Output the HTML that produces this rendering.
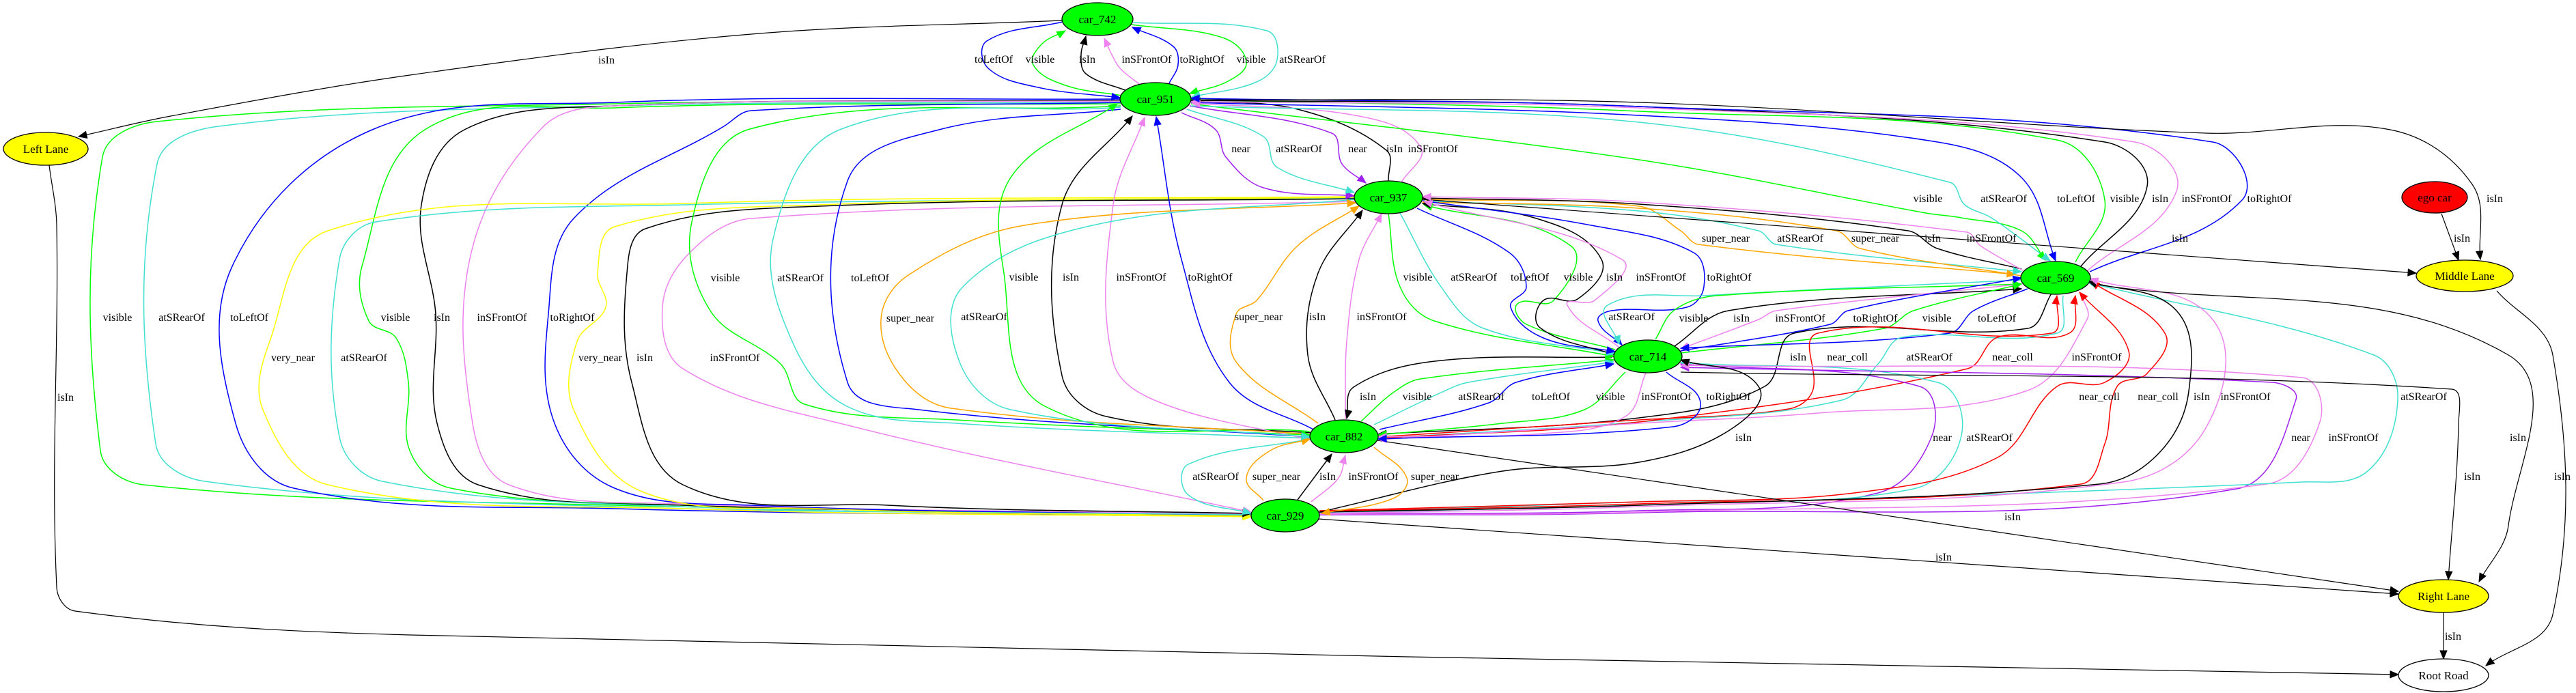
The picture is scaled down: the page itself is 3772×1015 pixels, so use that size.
<!DOCTYPE html>
<html><head><meta charset="utf-8">
<style>
html,body{margin:0;padding:0;background:#fff;}
svg{display:block;}
text{font-family:"Liberation Serif","DejaVu Serif",serif;font-size:16px;fill:#000;text-anchor:middle;}
#nodelabels text{font-size:17px;}
</style></head>
<body>
<svg id="g" width="3772" height="1015" viewBox="0 0 3772 1015" xmlns="http://www.w3.org/2000/svg">
<rect width="3772" height="1015" fill="#fff"/>
<g id="edges" fill="none"></g>
<g id="arrows"></g>
<g id="nodes" stroke="#000" stroke-width="1.3">
<ellipse cx="1607" cy="28" rx="52" ry="24" fill="#00ff00"/>
<ellipse cx="1692" cy="145" rx="52" ry="24" fill="#00ff00"/>
<ellipse cx="2033" cy="289" rx="50" ry="24" fill="#00ff00"/>
<ellipse cx="3010" cy="407" rx="51" ry="24" fill="#00ff00"/>
<ellipse cx="2413" cy="522" rx="50" ry="24" fill="#00ff00"/>
<ellipse cx="1968" cy="639" rx="50" ry="24" fill="#00ff00"/>
<ellipse cx="1882" cy="755" rx="50" ry="24" fill="#00ff00"/>
<ellipse cx="67" cy="218" rx="62" ry="24" fill="#ffff00"/>
<ellipse cx="3609" cy="404" rx="71" ry="23" fill="#ffff00"/>
<ellipse cx="3565" cy="289" rx="48" ry="23" fill="#ff0000"/>
<ellipse cx="3578" cy="873" rx="66" ry="24" fill="#ffff00"/>
<ellipse cx="3578" cy="989" rx="66" ry="24" fill="#ffffff"/>
</g>
<g id="nodelabels">
<text x="1607" y="34">car_742</text>
<text x="1692" y="151">car_951</text>
<text x="2033" y="295">car_937</text>
<text x="3010" y="413">car_569</text>
<text x="2413" y="528">car_714</text>
<text x="1968" y="645">car_882</text>
<text x="1882" y="761">car_929</text>
<text x="67" y="224">Left Lane</text>
<text x="3609" y="410">Middle Lane</text>
<text x="3565" y="295">ego car</text>
<text x="3578" y="879">Right Lane</text>
<text x="3578" y="995">Root Road</text>
</g>
<g id="labels">
<text x="1455" y="92">toLeftOf</text><text x="1523" y="92">visible</text><text x="1592" y="92">isIn</text><text x="1679" y="92">inSFrontOf</text><text x="1760" y="92">toRightOf</text><text x="1832" y="92">visible</text><text x="1907" y="92">atSRearOf</text>
<text x="888" y="93">isIn</text>
<text x="172" y="470">visible</text><text x="266" y="470">atSRearOf</text><text x="365" y="470">toLeftOf</text><text x="579" y="470">visible</text><text x="647" y="470">isIn</text><text x="735" y="470">inSFrontOf</text><text x="838" y="470">toRightOf</text>
<text x="429" y="529">very_near</text><text x="533" y="529">atSRearOf</text><text x="879" y="529">very_near</text><text x="944" y="529">isIn</text><text x="1076" y="529">inSFrontOf</text>
<text x="1062" y="412">visible</text><text x="1172" y="412">atSRearOf</text><text x="1274" y="412">toLeftOf</text>
<text x="1333" y="471">super_near</text>
<text x="1499" y="411">visible</text><text x="1568" y="411">isIn</text><text x="1671" y="411">inSFrontOf</text><text x="1772" y="411">toRightOf</text>
<text x="2076" y="411">visible</text><text x="2158" y="411">atSRearOf</text><text x="2240" y="411">toLeftOf</text><text x="2311" y="411">visible</text><text x="2364" y="411">isIn</text><text x="2432" y="411">inSFrontOf</text><text x="2532" y="411">toRightOf</text>
<text x="1441" y="469">atSRearOf</text><text x="1843" y="469">super_near</text><text x="1929" y="469">isIn</text><text x="2023" y="469">inSFrontOf</text><text x="2389" y="469">atSRearOf</text><text x="2480" y="471">visible</text>
<text x="2550" y="471">isIn</text><text x="2636" y="471">inSFrontOf</text><text x="2746" y="471">toRightOf</text><text x="2836" y="471">visible</text><text x="2924" y="471">toLeftOf</text>
<text x="2003" y="586">isIn</text><text x="2075" y="586">visible</text><text x="2169" y="586">atSRearOf</text><text x="2271" y="586">toLeftOf</text><text x="2358" y="586">visible</text><text x="2440" y="586">inSFrontOf</text><text x="2531" y="586">toRightOf</text>
<text x="1780" y="703">atSRearOf</text><text x="1869" y="703">super_near</text><text x="1944" y="703">isIn</text><text x="2011" y="703">inSFrontOf</text><text x="2101" y="703">super_near</text>
<text x="2633" y="528">isIn</text><text x="2705" y="528">near_coll</text><text x="2825" y="528">atSRearOf</text><text x="2947" y="528">near_coll</text><text x="3070" y="528">inSFrontOf</text>
<text x="3074" y="586">near_coll</text><text x="3160" y="586">near_coll</text><text x="3224" y="586">isIn</text><text x="3288" y="586">inSFrontOf</text><text x="3549" y="586">atSRearOf</text>
<text x="2553" y="646">isIn</text><text x="2844" y="646">near</text><text x="2913" y="646">atSRearOf</text><text x="3369" y="646">near</text><text x="3446" y="646">inSFrontOf</text><text x="3687" y="646">isIn</text>
<text x="3620" y="703">isIn</text><text x="3752" y="703">isIn</text>
<text x="2947" y="762">isIn</text><text x="2846" y="821">isIn</text><text x="3592" y="937">isIn</text><text x="96" y="587">isIn</text>
<text x="2527" y="354">super_near</text><text x="2636" y="354">atSRearOf</text><text x="2746" y="354">super_near</text><text x="2830" y="354">isIn</text><text x="2916" y="354">inSFrontOf</text><text x="3192" y="354">isIn</text><text x="3605" y="354">isIn</text>
<text x="2823" y="296">visible</text><text x="2934" y="296">atSRearOf</text><text x="3040" y="296">toLeftOf</text><text x="3111" y="296">visible</text><text x="3163" y="296">isIn</text><text x="3231" y="296">inSFrontOf</text><text x="3323" y="296">toRightOf</text><text x="3653" y="296">isIn</text>
<text x="1817" y="223">near</text><text x="1902" y="223">atSRearOf</text><text x="1988" y="223">near</text><text x="2042" y="223">isIn</text><text x="2098" y="223">inSFrontOf</text>
</g>
</svg>
<script>
var G='#00ff00',C='#40e0d0',V='#ee82ee',B='#0000ff',K='#000000',P='#a020f0',O='#ffa500',Y='#ffff00',R='#ff0000';
var E=[
[B,[[1556,32],[1445,60],[1447,100],[1520,128],[1640,143]]],
[G,[[1642,140],[1560,125],[1513,95],[1525,65],[1560,45]]],
[K,[[1650,133],[1590,108],[1583,80],[1590,53]]],
[V,[[1668,123],[1640,100],[1628,80],[1617,56]]],
[B,[[1712,122],[1725,95],[1718,68],[1658,40]]],
[G,[[1656,36],[1790,55],[1825,90],[1800,118],[1742,137]]],
[C,[[1659,33],[1855,45],[1870,88],[1840,120],[1745,142]]],
[K,[[1555,30],[1100,50],[600,110],[250,170],[115,200]],1],
[G,[[1640,148],[900,152],[230,178],[150,230],[147,660],[210,710],[900,740],[1832,752]]],
[C,[[1640,150],[900,155],[320,185],[230,240],[228,650],[300,705],[900,742],[1832,754]]],
[B,[[1640,145],[900,150],[545,190],[340,390],[345,620],[430,715],[900,745],[1832,756]]],
[G,[[1641,152],[900,158],[622,190],[530,390],[540,470],[580,495],[598,560],[600,660],[660,715],[1000,740],[1832,755]]],
[K,[[1641,147],[900,155],[680,190],[617,300],[638,460],[640,620],[700,710],[1000,740],[1832,752]]],
[V,[[1641,148],[900,155],[795,186],[690,370],[692,620],[745,710],[1000,738],[1832,753]]],
[B,[[1641,150],[1100,162],[1060,185],[840,320],[803,460],[812,620],[900,715],[1100,740],[1832,755]]],
[Y,[[1985,288],[1000,298],[480,338],[395,500],[385,600],[480,710],[1000,745],[1832,757]]],
[C,[[1985,290],[1000,300],[550,325],[497,380],[497,640],[560,705],[1000,742],[1832,754]]],
[Y,[[1985,289],[1200,300],[900,332],[875,400],[887,450],[845,500],[840,600],[940,720],[1200,745],[1832,756]]],
[K,[[1985,291],[1200,302],[945,335],[918,400],[925,560],[1000,710],[1300,740],[1832,752]]],
[V,[[1985,295],[1100,320],[1010,370],[970,450],[1000,540],[1250,625],[1832,750]]],
[G,[[1641,155],[1098,189],[1013,325],[1040,455],[1143,533],[1178,592],[1400,615],[1918,637]]],
[C,[[1641,157],[1232,189],[1132,350],[1160,500],[1240,595],[1400,620],[1918,642]]],
[B,[[1641,160],[1375,190],[1241,265],[1241,560],[1345,600],[1918,640]]],
[G,[[1918,632],[1530,595],[1470,400],[1480,260],[1636,152]]],
[K,[[1920,634],[1620,610],[1555,550],[1555,300],[1658,170]]],
[V,[[1922,645],[1700,590],[1630,530],[1630,300],[1676,172]]],
[B,[[1925,630],[1800,560],[1730,380],[1693,171]]],
[P,[[1730,165],[1780,190],[1795,230],[1850,275],[1983,287]]],
[C,[[1738,160],[1850,200],[1870,245],[1983,282]]],
[P,[[1742,155],[1950,195],[1965,240],[2000,268]]],
[K,[[2033,265],[2030,220],[1900,160],[1745,148]]],
[V,[[2052,267],[2080,215],[1990,170],[1745,151]]],
[G,[[1744,152],[2400,234],[2820,312],[2872,319],[2960,338],[2995,381]]],
[C,[[1744,155],[2400,179],[2855,267],[2877,300],[2916,319],[3002,382]]],
[B,[[1744,150],[2400,169],[2837,208],[2960,260],[3010,382]]],
[G,[[3039,384],[3082,293],[3012,205],[2400,163],[1744,146]]],
[K,[[3047,390],[3144,273],[3082,208],[2400,156],[1744,147]]],
[V,[[3056,397],[3187,280],[3126,208],[2400,158],[1744,149]]],
[B,[[3060,398],[3283,293],[3240,208],[2400,156],[1744,144]]],
[K,[[1744,146],[2400,150],[3230,195],[3500,190],[3620,270],[3632,380]],1],
[O,[[2083,292],[2400,302],[2461,338],[2487,358],[2951,402]]],
[C,[[2083,294],[2400,309],[2575,338],[2601,358],[2960,398]]],
[O,[[2960,404],[2724,364],[2689,338],[2400,305],[2083,296]]],
[K,[[2960,394],[2837,364],[2794,338],[2400,299],[2083,290]]],
[V,[[2962,396],[2900,360],[2880,340],[2400,296],[2083,288]]],
[K,[[2083,292],[3538,400]],1],
[K,[[3575,313],[3600,381]],1],
[G,[[2033,313],[2050,420],[2100,470],[2363,522]]],
[C,[[2050,312],[2110,420],[2170,480],[2365,518]]],
[B,[[2075,305],[2210,370],[2235,420],[2212,450],[2260,495],[2365,515]]],
[G,[[2365,512],[2235,475],[2222,445],[2275,440],[2300,360],[2085,300]]],
[K,[[2365,520],[2255,480],[2260,440],[2310,438],[2345,380],[2250,320],[2083,298]]],
[V,[[2370,508],[2295,447],[2335,440],[2375,380],[2085,295]]],
[B,[[2083,294],[2330,330],[2480,370],[2495,420],[2470,450],[2360,455],[2340,470],[2375,505]]],
[C,[[2960,410],[2495,433],[2354,447],[2371,504]]],
[G,[[2424,497],[2452,454],[2514,433],[2960,416]]],
[K,[[2452,507],[2531,455],[2960,423]]],
[V,[[2960,416],[2601,455],[2575,468],[2461,511]]],
[B,[[2461,514],[2680,475],[2706,455],[2960,407]]],
[G,[[2461,517],[2759,481],[2802,455],[2960,416]]],
[B,[[2969,423],[2890,455],[2855,488],[2461,510]]],
[K,[[3004,430],[2969,481],[2627,488],[2584,566],[2400,612],[2018,636]]],
[R,[[2018,640],[2400,615],[2619,599],[2654,573],[2662,488],[3004,488],[3012,433]]],
[C,[[3021,433],[3012,488],[2785,494],[2750,533],[2697,586],[2400,618],[2018,642]]],
[R,[[2018,642],[2400,618],[2881,540],[2925,494],[3030,488],[3039,433]]],
[V,[[3047,430],[3056,468],[2969,572],[2662,605],[2400,620],[2018,644]]],
[K,[[2361,523],[2101,529],[1982,567],[1972,613]]],
[G,[[1993,617],[2040,575],[2080,555],[2363,527]]],
[C,[[2012,622],[2110,575],[2150,560],[2363,530]]],
[B,[[2020,629],[2180,590],[2220,560],[2363,533]]],
[G,[[2380,545],[2320,600],[2200,620],[2018,637]]],
[V,[[2410,546],[2380,610],[2260,635],[2018,640]]],
[B,[[2440,545],[2490,590],[2450,625],[2018,643]]],
[P,[[1932,752],[2400,748],[2750,722],[2829,638],[2811,566],[2461,533]]],
[C,[[1932,750],[2400,735],[2802,716],[2872,638],[2837,560],[2461,531]]],
[P,[[1932,754],[2400,751],[3275,716],[3362,585],[3327,560],[2461,538]]],
[V,[[1932,753],[2400,750],[3319,709],[3397,618],[3371,553],[2461,535]]],
[C,[[1932,751],[2400,740],[3371,706],[3467,690],[3511,586],[3476,520],[3058,414]]],
[R,[[1932,749],[2400,738],[3047,709],[3082,650],[3100,566],[3144,547],[3170,488],[3062,412]]],
[R,[[1932,748],[2400,735],[2715,722],[2925,670],[3012,566],[3082,560],[3117,514],[3045,428]]],
[K,[[1932,750],[2400,740],[3074,709],[3161,664],[3205,573],[3187,455],[3058,412]]],
[V,[[1932,752],[2400,742],[3109,706],[3231,625],[3240,468],[3060,408]]],
[K,[[1932,750],[2200,690],[2400,677],[2531,631],[2575,566],[2461,527]]],
[C,[[1918,643],[1740,680],[1740,725],[1832,752]]],
[O,[[1850,733],[1825,700],[1860,660],[1918,643]]],
[K,[[1900,732],[1950,665]]],
[V,[[1920,735],[1960,700],[1970,667]]],
[O,[[2012,655],[2060,700],[2040,730],[1935,752]]],
[O,[[1918,636],[1393,598],[1321,553],[1290,468],[1330,403],[1500,330],[1985,297]]],
[C,[[1985,292],[1600,330],[1410,420],[1405,530],[1480,600],[1918,640]]],
[O,[[1930,620],[1810,530],[1810,460],[1840,440],[1900,360],[1990,302]]],
[K,[[1955,615],[1915,520],[1930,400],[1995,308]]],
[V,[[1970,614],[1972,500],[1990,380],[2023,313]]],
[K,[[2017,645],[3512,866]],1],
[K,[[1930,760],[3512,870]],1],
[K,[[2461,545],[3590,570],[3600,620],[3585,849]],1],
[K,[[3060,415],[3673,520],[3673,770],[3630,852]],1],
[K,[[3656,426],[3738,520],[3738,900],[3640,975]],1],
[K,[[3578,897],[3578,965]],1],
[K,[[72,242],[83,330],[83,860],[110,895],[600,930],[3512,988]],1]
];
var NS='http://www.w3.org/2000/svg';
var eg=document.getElementById('edges'),ag=document.getElementById('arrows');
function unit(a,b){var dx=b[0]-a[0],dy=b[1]-a[1],l=Math.sqrt(dx*dx+dy*dy)||1;return [dx/l,dy/l];}
function dist(a,b){var dx=b[0]-a[0],dy=b[1]-a[1];return Math.sqrt(dx*dx+dy*dy);}
E.forEach(function(e){
  var col=e[0],p=e[1],w=e[2]?1.2:1.5,n=p.length;
  var d='M'+p[0][0]+','+p[0][1];
  var lc2=p[0];
  for(var i=0;i<n-1;i++){
    var p0=p[i-1]||p[i],p1=p[i],p2=p[i+1],p3=p[i+2]||p[i+1];
    var s=dist(p1,p2)*0.35;
    var t1=unit(p0,p2),t2=unit(p1,p3);
    var c1=[p1[0]+t1[0]*s,p1[1]+t1[1]*s];
    var c2=[p2[0]-t2[0]*s,p2[1]-t2[1]*s];
    d+=' C'+c1[0].toFixed(1)+','+c1[1].toFixed(1)+' '+c2[0].toFixed(1)+','+c2[1].toFixed(1)+' '+p2[0]+','+p2[1];
    lc2=c2;
  }
  var path=document.createElementNS(NS,'path');
  path.setAttribute('d',d);path.setAttribute('stroke',col);path.setAttribute('stroke-width',w);
  eg.appendChild(path);
  var t=p[n-1],dx=t[0]-lc2[0],dy=t[1]-lc2[1],L=Math.sqrt(dx*dx+dy*dy)||1;
  dx/=L;dy/=L;var al=12,hw=5;
  var bx=t[0]-dx*al,by=t[1]-dy*al;
  var poly=document.createElementNS(NS,'polygon');
  poly.setAttribute('points',t[0]+','+t[1]+' '+(bx-dy*hw).toFixed(1)+','+(by+dx*hw).toFixed(1)+' '+(bx+dy*hw).toFixed(1)+','+(by-dx*hw).toFixed(1));
  poly.setAttribute('fill',col);poly.setAttribute('stroke',col);poly.setAttribute('stroke-width','1');
  ag.appendChild(poly);
});
</script>
</body></html>
